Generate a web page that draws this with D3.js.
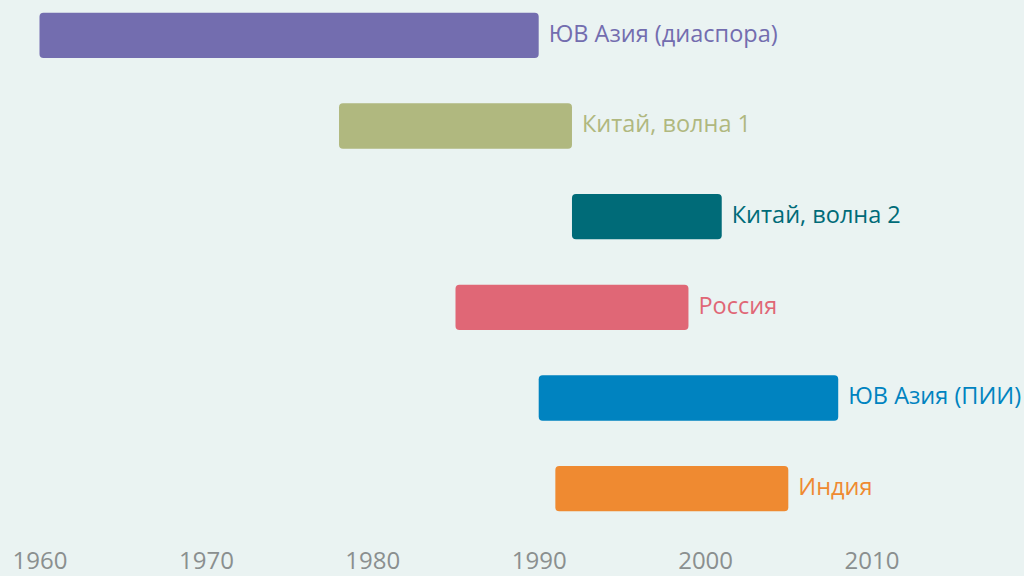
<!DOCTYPE html>
<html>
<head>
<meta charset="utf-8">
<title>Волны</title>
<script src="https://cdn.jsdelivr.net/npm/d3@7"></script>
<style>
  html, body { margin: 0; padding: 0; background: #eaf3f2; overflow: hidden; }
  svg { display: block; }
</style>
</head>
<body>
<svg id="chart" width="1024" height="576"></svg>
<script>
// data
var names  = ["ЮВ Азия (диаспора)", "Китай, волна 1", "Китай, волна 2", "Россия", "ЮВ Азия (ПИИ)", "Индия"];
var starts = [1960, 1978, 1992, 1985, 1990, 1991];
var ends   = [1990, 1992, 2001, 1999, 2008, 2005];
var colors = ["#736daf", "#b0b87f", "#006b78", "#e06776", "#0083c0", "#ef8a31"];
var years  = [1960, 1970, 1980, 1990, 2000, 2010];

var svg = d3.select("#chart");

var x = d3.scaleLinear().domain([1960, 2010]).range([39.5, 871.5]);
var y = d3.scaleBand().domain(names).range([-10, 534]).paddingInner(0.5).paddingOuter(0.25);

var rows = names.map(function (n, i) {
  return { name: n, start: starts[i], end: ends[i], color: colors[i] };
});

svg.selectAll("rect.bar")
  .data(rows)
  .enter()
  .append("rect")
  .attr("class", "bar")
  .attr("x", d => x(d.start))
  .attr("y", d => y(d.name))
  .attr("width", d => x(d.end) - x(d.start))
  .attr("height", y.bandwidth())
  .attr("rx", 4)
  .style("fill", d => d.color);

svg.selectAll("text.lbl")
  .data(rows)
  .enter()
  .append("text")
  .attr("class", "lbl")
  .attr("x", d => x(d.end) + 10)
  .attr("y", d => y(d.name) + y.bandwidth() / 2 - 2)
  .attr("dy", "0.35em")
  .style("font-family", "'Open Sans', sans-serif")
  .style("font-size", "23.5px")
  .style("fill", d => d.color)
  .text(d => d.name);

// axis: only the year labels, no line or ticks
var axis = d3.axisBottom(x).tickValues(years).tickFormat(d3.format("d")).tickSize(0).tickPadding(0);
var gx = svg.append("g").attr("transform", "translate(0,569)").call(axis);
gx.select(".domain").remove();
gx.selectAll("text")
  .attr("dy", "0")
  .style("font-family", "'Open Sans', sans-serif")
  .style("font-size", "24px")
  .style("fill", "#8a8f8f");
</script>
</body>
</html>
